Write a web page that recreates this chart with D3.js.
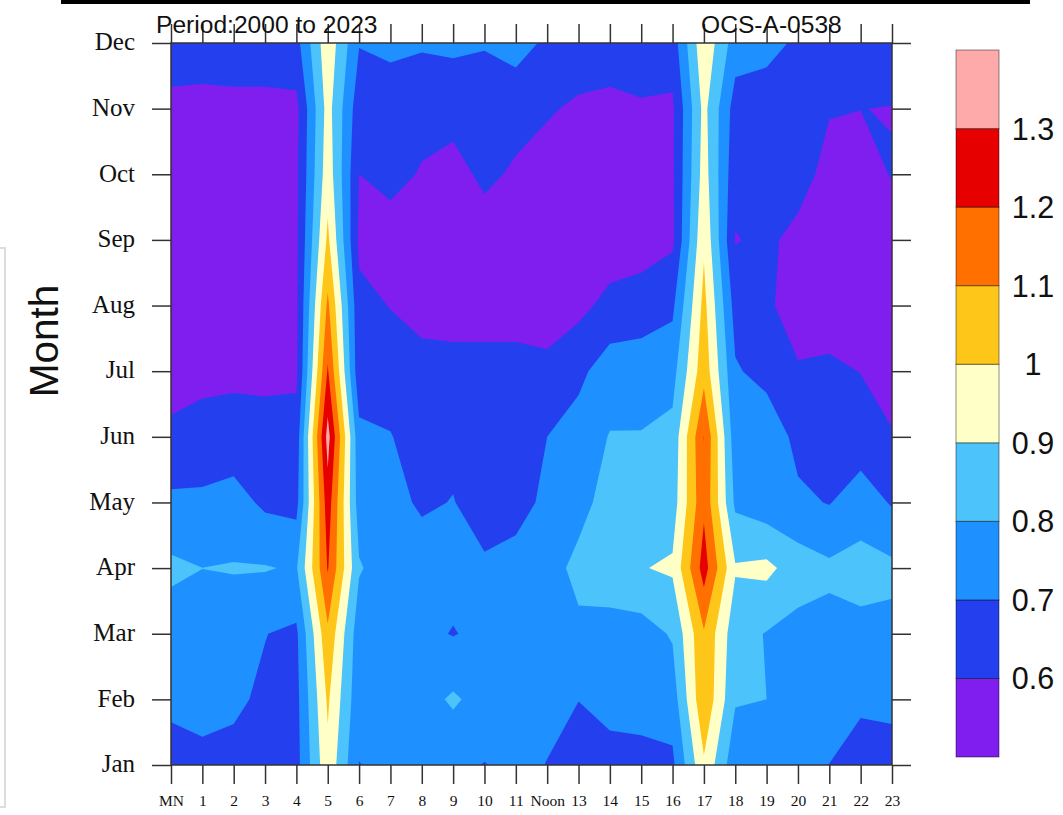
<!DOCTYPE html>
<html>
<head>
<meta charset="utf-8">
<title>OCS-A-0538</title>
<script src="https://cdnjs.cloudflare.com/ajax/libs/d3/7.8.5/d3.min.js"></script>
<style>
  body { margin: 0; background: #fff; }
  svg { display: block; }
</style>
</head>
<body>
<div id="chart"></div>
<script>
// values, one list per month, hours MN to 23
const hourLabels = ["MN", "1", "2", "3", "4", "5", "6", "7", "8", "9", "10", "11", "Noon", "13", "14", "15", "16", "17", "18", "19", "20", "21", "22", "23"];
const monthLabels = ["Jan", "Feb", "Mar", "Apr", "May", "Jun", "Jul", "Aug", "Sep", "Oct", "Nov", "Dec"];

const jan = [.67, .67, .68, .66, .665, .975, .698, .72, .72, .72, .697, .72, .698, .67, .67, .675, .68, .985, .73, .72, .71, .699, .67, .67];
const feb = [.716, .74, .712, .688, .67, 1.015, .73, .74, .76, .815, .76, .75, .72, .701, .727, .73, .747, 1.085, .81, .80, .76, .74, .712, .718];
const mar = [.748, .76, .745, .702, .682, 1.08, .74, .73, .725, .695, .725, .745, .74, .77, .757, .757, .81, 1.09, .836, .795, .767, .769, .778, .775];
const apr = [.821, .8005, .806, .806, .79, 1.208, .81, .74, .77, .735, .72, .725, .74, .84, .865, .895, .915, 1.245, .91, .925, .85, .819, .831, .822];
const may = [.72, .72, .74, .681, .668, 1.256, .75, .745, .68, .705, .64, .675, .715, .75, .86, .86, .85, 1.18, .78, .74, .72, .695, .757, .69];
const jun = [.62, .635, .64, .64, .64, 1.339, .73, .705, .645, .665, .62, .65, .70, .74, .805, .805, .83, 1.202, .74, .77, .67, .65, .64, .605];
const jul = [.56, .575, .58, .575, .58, 1.21, .63, .645, .62, .62, .62, .62, .615, .677, .75, .755, .763, 1.064, .711, .665, .61, .618, .598, .57];
const aug = [.55, .55, .55, .55, .58, 1.12, .625, .597, .58, .575, .575, .575, .57, .573, .63, .645, .68, 1.03, .66, .618, .55, .55, .55, .55];
const sep = [.54, .54, .54, .54, .58, 1.02, .58, .54, .55, .53, .53, .52, .52, .53, .542, .555, .582, .985, .595, .62, .57, .55, .55, .55];
const oct = [.54, .54, .54, .54, .58, .96, .60, .64, .59, .55, .63, .58, .56, .545, .54, .55, .585, .945, .631, .64, .643, .565, .563, .605];
const nov = [.575, .57, .575, .575, .575, .94, .64, .653, .64, .65, .625, .65, .61, .585, .575, .59, .585, .93, .655, .666, .66, .607, .601, .597];
const dec = [.65, .65, .65, .65, .665, .97, .705, .72, .71, .715, .71, .73, .687, .655, .65, .65, .645, .98, .749, .72, .69, .68, .66, .66];

const monthRows = [jan, feb, mar, apr, may, jun, jul, aug, sep, oct, nov, dec];

// contour levels and one more fill colour than levels
const levels = [0.6, 0.7, 0.8, 0.9, 1, 1.1, 1.2, 1.3];
const levelLabels = ["0.6", "0.7", "0.8", "0.9", "1", "1.1", "1.2", "1.3"];
const fillColors = ["#7f1eef", "#2440ee", "#1e90ff", "#4cc3fa", "#ffffc8", "#ffc61a", "#ff7000", "#e60000", "#ffaaaa"];

const width = 1063;
const height = 815;
const plot = { left: 171, right: 892, top: 43, bottom: 765 };
const bar = { left: 956, right: 999, top: 50, bottom: 757 };
const tickLength = 19;
const lineColor = "#333";

const x = d3.scaleLinear().domain([0, hourLabels.length - 1]).range([plot.left, plot.right]);
const y = d3.scaleLinear().domain([0, monthLabels.length - 1]).range([plot.bottom, plot.top]);
const barY = d3.scaleLinear().domain([0.5, 1.4]).range([bar.bottom, bar.top]);

const svg = d3.select("#chart").append("svg").attr("width", width).attr("height", height);

// page furniture around the chart
svg.append("rect").attr("x", 61).attr("y", 0).attr("width", 969).attr("height", 4).attr("fill", "#000");
svg.append("path")
  .attr("d", d3.line()([[0, 248], [5, 248], [5, 807], [0, 807]]))
  .attr("fill", "none")
  .attr("stroke", "#ddd")
  .attr("stroke-width", 2);

drawContours();
drawAxes();
drawColorBar();
drawTitles();

function drawContours() {
  svg.append("clipPath").attr("id", "plot-clip")
    .append("rect")
    .attr("x", plot.left)
    .attr("y", plot.top)
    .attr("width", plot.right - plot.left)
    .attr("height", plot.bottom - plot.top);

  var layer = svg.append("g").attr("clip-path", "url(#plot-clip)");

  layer.append("rect")
    .attr("x", plot.left)
    .attr("y", plot.top)
    .attr("width", plot.right - plot.left)
    .attr("height", plot.bottom - plot.top)
    .attr("fill", fillColors[1]);

  var size = [hourLabels.length, monthLabels.length];
  var values = monthRows.flat();

  // d3 puts grid nodes at half cells, so shift back before scaling
  var pathGenerator = d3.geoPath(d3.geoTransform({
    point: function(cx, cy) {
      this.stream.point(x(cx - 0.5), y(cy - 0.5));
    }
  }));

  // the lowest band is traced from the negated values, d3 keeps the upper side
  // apart at saddles and the wedge at Nov 22-23 needs the purple side apart
  var lowest = d3.contours().size(size).thresholds([-levels[0]])(values.map(function(v) {
    return -v;
  }));

  layer.append("path")
    .attr("d", pathGenerator(lowest[0]))
    .attr("fill", fillColors[0]);

  var contours = d3.contours().size(size).thresholds(levels.slice(1))(values);

  layer.selectAll("path.band")
    .data(contours)
    .enter()
    .append("path")
    .attr("class", "band")
    .attr("d", pathGenerator)
    .attr("fill", function(d, i) {
      return fillColors[i + 2];
    });
}

function drawAxes() {
  var hourIndex = d3.range(hourLabels.length);
  var monthIndex = d3.range(monthLabels.length);

  var bottom = svg.append("g")
    .attr("transform", "translate(0," + plot.bottom + ")")
    .call(d3.axisBottom(x).tickValues(hourIndex).tickSize(tickLength).tickPadding(11)
      .tickFormat(function(d) { return hourLabels[d]; }));
  var top = svg.append("g")
    .attr("transform", "translate(0," + plot.top + ")")
    .call(d3.axisTop(x).tickValues(hourIndex).tickSize(tickLength).tickFormat(""));
  var left = svg.append("g")
    .attr("transform", "translate(" + plot.left + ",0)")
    .call(d3.axisLeft(y).tickValues(monthIndex).tickSize(tickLength).tickPadding(17)
      .tickFormat(function(d) { return monthLabels[d]; }));
  var right = svg.append("g")
    .attr("transform", "translate(" + plot.right + ",0)")
    .call(d3.axisRight(y).tickValues(monthIndex).tickSize(tickLength).tickFormat(""));

  [bottom, top, left, right].forEach(function(axis) {
    axis.selectAll("path, line").attr("stroke", lineColor).attr("stroke-width", 1.5);
    axis.selectAll(".domain").attr("d", null);
  });

  bottom.selectAll("text").attr("font-family", "Liberation Serif").attr("font-size", 15.5).attr("fill", "#111");
  left.selectAll("text")
    .attr("font-family", "Liberation Serif")
    .attr("font-size", 25)
    .attr("dy", "0.27em")
    .attr("fill", "#111");

  // frame drawn by hand so the four corners close
  svg.append("rect")
    .attr("x", plot.left)
    .attr("y", plot.top)
    .attr("width", plot.right - plot.left)
    .attr("height", plot.bottom - plot.top)
    .attr("fill", "none")
    .attr("stroke", lineColor)
    .attr("stroke-width", 1.5);
}

function drawColorBar() {
  var edges = [0.5].concat(levels, [1.4]);

  svg.append("g")
    .selectAll("rect")
    .data(fillColors)
    .enter()
    .append("rect")
    .attr("x", bar.left)
    .attr("width", bar.right - bar.left)
    .attr("y", function(d, i) { return barY(edges[i + 1]); })
    .attr("height", function(d, i) { return barY(edges[i]) - barY(edges[i + 1]); })
    .attr("fill", function(d) { return d; })
    .attr("stroke", "#000")
    .attr("stroke-opacity", 0.45)
    .attr("stroke-width", 1);

  svg.append("g")
    .selectAll("text")
    .data(levels)
    .enter()
    .append("text")
    .attr("x", 1033)
    .attr("y", function(d) { return barY(d); })
    .attr("dy", "0.36em")
    .attr("text-anchor", "middle")
    .attr("font-family", "Liberation Sans")
    .attr("font-size", 30.5)
    .attr("fill", "#111")
    .text(function(d, i) { return levelLabels[i]; });
}

function drawTitles() {
  svg.append("text")
    .attr("x", 156)
    .attr("y", 33)
    .attr("font-family", "Liberation Sans")
    .attr("font-size", 24.6)
    .attr("fill", "#111")
    .text("Period:2000 to 2023");

  svg.append("text")
    .attr("x", 701)
    .attr("y", 33)
    .attr("font-family", "Liberation Sans")
    .attr("font-size", 24.6)
    .attr("fill", "#111")
    .text("OCS-A-0538");

  svg.append("text")
    .attr("transform", "translate(58,341) rotate(-90)")
    .attr("text-anchor", "middle")
    .attr("font-family", "Liberation Sans")
    .attr("font-size", 40.5)
    .attr("fill", "#111")
    .text("Month");
}
</script>
</body>
</html>
